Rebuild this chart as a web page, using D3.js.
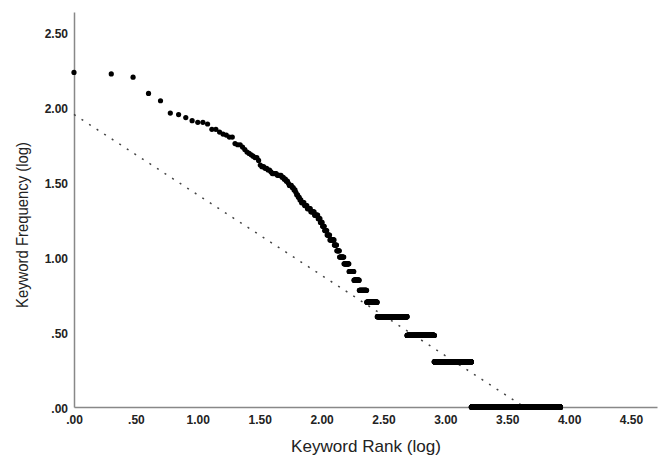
<!DOCTYPE html>
<html>
<head>
<meta charset="utf-8">
<script src="https://cdn.jsdelivr.net/npm/d3@7"></script>
<style>
  body { margin: 0; background: #fff; }
  svg { font-family: "Liberation Sans", Arial, sans-serif; }
</style>
</head>
<body>
<svg width="664" height="460"></svg>
<script>
// keyword frequency values (descending) and how many keywords have each one
var freqValues = [170,166,158,123,110,91,89,85,81,79,77,71,68,66,65,63,57,56,54,52,
  50,49,48,47,46,44,41,40,39,38,37,36,35,34,33,32,31,30,29,28,27,26,25,24,23,22,21,
  20,19,18,17,16,15,14,13,12,11,10,9,8,7,6,5,4,3,2,1];
var keywordCounts = [1,1,1,1,1,1,1,1,1,2,1,2,1,1,1,2,1,2,1,1,
  1,1,1,1,2,1,1,2,2,2,1,4,4,2,2,2,1,3,2,2,1,2,2,2,4,4,5,
  6,6,4,4,4,5,6,10,6,7,12,15,16,19,30,50,209,323,809,6889];

// fitted line (log frequency = intercept + slope * log rank)
var fitIntercept = 1.95;
var fitSlope = -0.536;

var xTicks = [0, 0.5, 1, 1.5, 2, 2.5, 3, 3.5, 4, 4.5];
var yTicks = [0, 0.5, 1, 1.5, 2, 2.5];

zipfChart();

function zipfChart() {
  // expand the counts into one point per keyword, rank = position in the list
  var points = [];
  var rank = 1;
  freqValues.forEach(function(f, i) {
    for (var k = 0; k < keywordCounts[i]; k++) {
      points.push({x: Math.log10(rank), y: Math.log10(f)});
      rank++;
    }
  });

  var svg = d3.select("svg");

  var xScale = d3.scaleLinear().domain([0, 4.71]).range([74, 657]);
  var yScale = d3.scaleLinear().domain([0, 2.633]).range([407, 12]);

  // SPSS style labels: ".50" instead of "0.50"
  var fmt = function(d) { return d3.format(".2f")(d).replace(/^0\./, "."); };

  var xAxis = d3.axisBottom(xScale).tickValues(xTicks).tickSize(0).tickPadding(8).tickFormat(fmt);
  var yAxis = d3.axisLeft(yScale).tickValues(yTicks).tickSize(0).tickPadding(6).tickFormat(fmt);

  var gx = svg.append("g").attr("transform", "translate(0," + yScale(0) + ")").call(xAxis);
  var gy = svg.append("g").attr("transform", "translate(" + xScale(0) + ",0)").call(yAxis);

  [gx, gy].forEach(function(g) {
    g.select(".domain").attr("stroke", "#888").attr("stroke-width", 1.5);
    g.selectAll("text")
      .attr("fill", "#222")
      .style("font-size", "12px")
      .style("font-weight", "bold")
      .style("font-family", "'Liberation Sans', Arial, sans-serif");
  });
  gy.selectAll(".tick text").attr("dy", "0.45em");

  // dotted fit line, from rank 1 down to where it meets zero
  var fitLine = d3.line()
    .x(function(d) { return xScale(d); })
    .y(function(d) { return yScale(fitIntercept + fitSlope * d); });

  svg.append("path")
    .attr("d", fitLine([0, -fitIntercept / fitSlope]))
    .attr("fill", "none")
    .attr("stroke", "#444")
    .attr("stroke-width", 1.5)
    .attr("stroke-dasharray", "2,7");

  svg.append("g").selectAll("circle")
    .data(points)
    .enter()
    .append("circle")
    .attr("r", 2.6)
    .attr("cx", function(d) { return xScale(d.x); })
    .attr("cy", function(d) { return yScale(d.y); })
    .attr("fill", "#000");

  // axis titles
  svg.append("text")
    .attr("x", 366)
    .attr("y", 452)
    .attr("text-anchor", "middle")
    .attr("fill", "#222")
    .attr("textLength", 150)
    .attr("lengthAdjust", "spacingAndGlyphs")
    .style("font-size", "17px")
    .text("Keyword Rank (log)");

  svg.append("text")
    .attr("transform", "translate(28,225) rotate(-90)")
    .attr("text-anchor", "middle")
    .attr("fill", "#222")
    .attr("textLength", 166)
    .attr("lengthAdjust", "spacingAndGlyphs")
    .style("font-size", "17px")
    .text("Keyword Frequency (log)");
}
</script>
</body>
</html>
